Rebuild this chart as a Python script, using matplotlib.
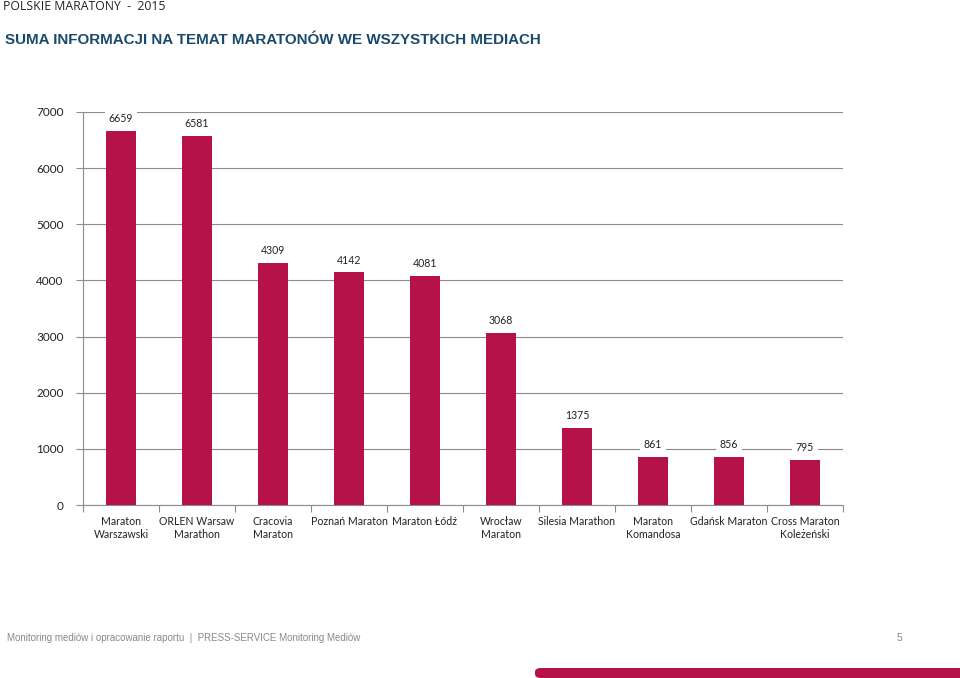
import matplotlib.pyplot as plt
from matplotlib.patches import FancyBboxPatch

# chart data
categories = ["Maraton\nWarszawski", "ORLEN Warsaw\nMarathon", "Cracovia\nMaraton",
              "Poznań Maraton", "Maraton Łódź", "Wrocław\nMaraton", "Silesia Marathon",
              "Maraton\nKomandosa", "Gdańsk Maraton", "Cross Maraton\nKoleżeński"]
values = [6659, 6581, 4309, 4142, 4081, 3068, 1375, 861, 856, 795]
yticks = [0, 1000, 2000, 3000, 4000, 5000, 6000, 7000]

BAR = "#B5124A"
LABEL_FONT = ["Lato", "DejaVu Sans"]

fig = plt.figure(figsize=(9.6, 6.78), dpi=100)
ax = fig.add_axes([83/960, 1 - 505/678, 760/960, 393/678])

x = list(range(len(values)))
ax.bar(x, values, width=0.4, color=BAR, zorder=3)
ax.set_xlim(-0.5, len(values) - 0.5)
ax.set_ylim(0, 7000)
ax.set_yticks(yticks)
ax.set_yticklabels([str(t) for t in yticks], family=LABEL_FONT, fontsize=8.5, color="#222222")
ax.yaxis.grid(True, color="#8c8c8c", linewidth=0.8, zorder=0)
ax.set_axisbelow(True)

# category separators as ticks
ax.set_xticks([i - 0.5 for i in range(len(values) + 1)], minor=False)
ax.set_xticklabels([])
ax.set_xticks(x, minor=True)
ax.set_xticklabels(categories, minor=True, family=LABEL_FONT, fontsize=7.6,
                   linespacing=1.2, color="#222222")
ax.tick_params(axis="x", which="major", length=5, color="#8c8c8c")
ax.tick_params(axis="x", which="minor", length=0, pad=8)
ax.tick_params(axis="y", length=5, color="#8c8c8c", pad=9)

for s in ["top", "right"]:
    ax.spines[s].set_visible(False)
for s in ["left", "bottom"]:
    ax.spines[s].set_color("#8c8c8c")
    ax.spines[s].set_linewidth(0.8)

for xi, v in zip(x, values):
    ax.annotate(str(v), (xi, v), xytext=(0, 5), textcoords="offset points",
                ha="center", va="bottom", fontsize=7.6, family=LABEL_FONT, zorder=5,
                color="#222222",
                bbox=dict(boxstyle="square,pad=0.35", fc="white", ec="none"))

# header / footer texts
fig.text(3/960, 1 - 6/678, "POLSKIE MARATONY  -  2015", fontsize=8.8,
         family=["Open Sans", "DejaVu Sans"], va="center", ha="left", color="#222222")
fig.text(5/960, 1 - 40/678, "SUMA INFORMACJI NA TEMAT MARATONÓW WE WSZYSTKICH MEDIACH",
         fontsize=10.9, fontweight="bold", family=["Liberation Sans", "DejaVu Sans"],
         color="#1A4A6B", va="center", ha="left")
fig.text(7/960, 1 - 638/678, "Monitoring mediów i opracowanie raportu  |  PRESS-SERVICE Monitoring Mediów",
         fontsize=7, family=["Liberation Sans", "DejaVu Sans"],
         color="#888888", va="center", ha="left")
fig.text(899/960, 1 - 638/678, "5", fontsize=7.5, family=["Liberation Sans", "DejaVu Sans"],
         color="#888888", va="center", ha="center")

fig.patches.append(FancyBboxPatch((535/960, 0), 440/960, 10/678,
                                  boxstyle="round,pad=0,rounding_size=0.006",
                                  transform=fig.transFigure, fc=BAR, ec="none", figure=fig))

fig.savefig("out.png", dpi=100)
